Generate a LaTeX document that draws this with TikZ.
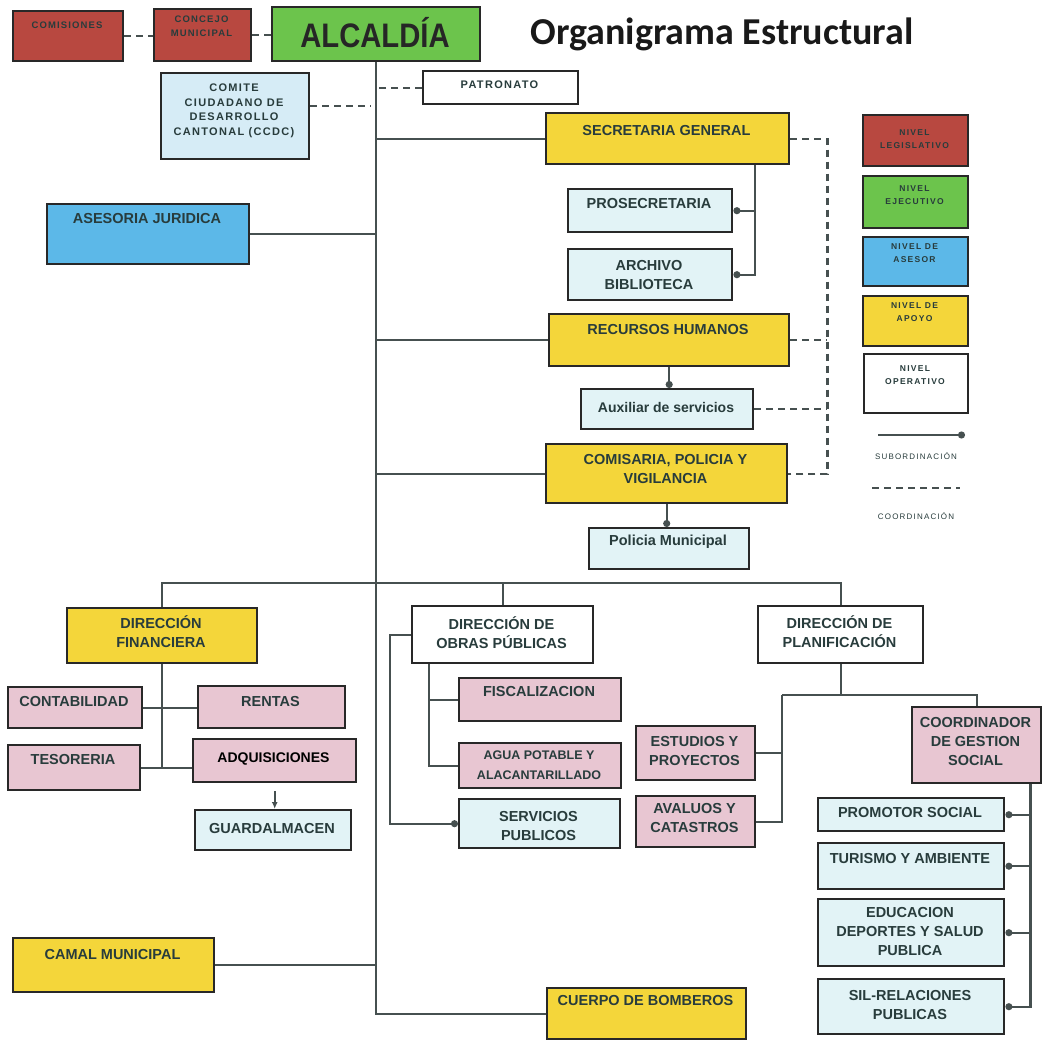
\documentclass[tikz,border=0pt]{standalone}
\usepackage{fontspec}
\setmainfont{Liberation Sans}
\newfontfamily\spacedfont[LetterSpace=12]{Liberation Sans}
\newfontfamily\legfont[LetterSpace=15]{Liberation Sans}
\newfontfamily\alcfont[FakeStretch=0.86]{Liberation Sans}
\newfontfamily\titlefont{Carlito}
\usetikzlibrary{arrows.meta,calc}
\definecolor{cred}{RGB}{184,72,64}
\definecolor{cgreen}{RGB}{108,196,76}
\definecolor{cblue}{RGB}{92,184,232}
\definecolor{cyel}{RGB}{244,214,58}
\definecolor{cpink}{RGB}{232,198,210}
\definecolor{ccyan}{RGB}{226,243,246}
\definecolor{ccom}{RGB}{214,236,246}
\definecolor{bordc}{RGB}{40,40,40}
\definecolor{linec}{RGB}{70,80,80}
\definecolor{textc}{RGB}{40,60,60}
\newcommand\obox[9]{%
  \node[#2, anchor=north west, minimum width={(#5-#3)*1pt}, minimum height={(#6-#4)*1pt}] (#1) at (#3,#4) {};
  \node[txt, #7] (#1-t) at ({(#3+#5)/2},#8) {#9};
}
\begin{document}
\begin{tikzpicture}[x=1pt,y=-1pt,
  bx/.style={draw=bordc, line width=2.4pt, inner sep=0pt},
  redbox/.style={bx, fill=cred},
  greenbox/.style={bx, fill=cgreen},
  bluebox/.style={bx, fill=cblue},
  yelbox/.style={bx, fill=cyel},
  pinkbox/.style={bx, fill=cpink},
  cyanbox/.style={bx, fill=ccyan},
  whitebox/.style={bx, fill=white},
  combox/.style={bx, fill=ccom},
  txt/.style={align=center, inner sep=0pt, text=textc, font=\bfseries\fontsize{14.5}{19}\selectfont},
  legt/.style={font=\legfont\bfseries\fontsize{8.5}{12.5}\selectfont},
  conn/.style={draw=linec, line width=2.2pt},
  dashconn/.style={conn, dash pattern=on 7pt off 5pt},
  subconn/.style={conn, -{Circle[length=7pt]}},
]
\fill[white] (0,0) rectangle (1042,1040);
\useasboundingbox (0,0) rectangle (1042,1040);

\node[font=\titlefont\bfseries\fontsize{38}{40}\selectfont, anchor=base, text=black!90] (title) at (722,45) {Organigrama Estructural};

% top
\obox{comis}{redbox}{12}{10}{122}{60}{font=\spacedfont\bfseries\fontsize{9.5}{11}\selectfont}{25}{COMISIONES}
\obox{conc}{redbox}{153}{8}{250}{60}{font=\spacedfont\bfseries\fontsize{9.5}{14}\selectfont}{26}{CONCEJO\\MUNICIPAL}
\obox{alc}{greenbox}{271}{6}{479}{60}{font=\alcfont\bfseries\fontsize{34}{34}\selectfont, text=black!85}{33}{ALCALDÍA}
\obox{comite}{combox}{160}{72}{308}{158}{font=\spacedfont\bfseries\fontsize{11}{14.5}\selectfont}{111}{COMITE\\CIUDADANO DE\\DESARROLLO\\CANTONAL (CCDC)}
\obox{pat}{whitebox}{422}{70}{577}{103}{font=\spacedfont\bfseries\fontsize{11}{12}\selectfont}{85}{PATRONATO}
\obox{sg}{yelbox}{545}{112}{788}{163}{}{131}{SECRETARIA GENERAL}
\obox{pros}{cyanbox}{567}{188}{731}{231}{}{204}{PROSECRETARIA}
\obox{arch}{cyanbox}{567}{248}{731}{299}{}{275}{ARCHIVO\\BIBLIOTECA}
\obox{ases}{bluebox}{46}{203}{248}{263}{}{219}{ASESORIA JURIDICA}
\obox{rh}{yelbox}{548}{313}{788}{365}{}{330}{RECURSOS HUMANOS}
\obox{aux}{cyanbox}{580}{388}{752}{428}{font=\bfseries\fontsize{14}{16}\selectfont}{407}{Auxiliar de servicios}
\obox{com}{yelbox}{545}{443}{786}{502}{}{469}{COMISARIA, POLICIA Y\\VIGILANCIA}
\obox{pol}{cyanbox}{588}{527}{748}{568}{}{542}{Policia Municipal}

% legend
\obox{lleg}{redbox}{862}{114}{967}{165}{legt}{139}{NIVEL\\LEGISLATIVO}
\obox{leje}{greenbox}{862}{175}{967}{227}{legt}{195}{NIVEL\\EJECUTIVO}
\obox{lase}{bluebox}{862}{236}{967}{285}{legt}{253}{NIVEL DE\\ASESOR}
\obox{lapo}{yelbox}{862}{295}{967}{345}{legt}{312}{NIVEL DE\\APOYO}
\obox{lope}{whitebox}{863}{353}{967}{412}{legt}{375}{NIVEL\\OPERATIVO}
\coordinate (ls1) at (878,435);
\coordinate (ls2) at (965,435);
\draw[subconn] (ls1) -- (ls2);
\node[txt, font=\legfont\fontsize{8}{9}\selectfont] (lsub) at (916,456) {SUBORDINACIÓN};
\coordinate (lc1) at (872,488);
\coordinate (lc2) at (960,488);
\draw[dashconn] (lc1) -- (lc2);
\node[txt, font=\legfont\fontsize{8}{9}\selectfont] (lcoo) at (916,516) {COORDINACIÓN};

% lower
\obox{df}{yelbox}{66}{607}{256}{662}{}{632}{DIRECCIÓN\\FINANCIERA}
\obox{dop}{whitebox}{411}{605}{592}{662}{}{633}{DIRECCIÓN DE\\OBRAS PÚBLICAS}
\obox{dp}{whitebox}{757}{605}{922}{662}{}{632}{DIRECCIÓN DE\\PLANIFICACIÓN}
\obox{conta}{pinkbox}{7}{686}{141}{727}{}{702}{CONTABILIDAD}
\obox{rent}{pinkbox}{197}{685}{344}{727}{}{702}{RENTAS}
\obox{tes}{pinkbox}{7}{744}{139}{789}{}{760}{TESORERIA}
\obox{adq}{pinkbox}{192}{738}{355}{781}{text=black, font=\bfseries\fontsize{14}{16}\selectfont}{759}{ADQUISICIONES}
\obox{guard}{cyanbox}{194}{809}{350}{849}{}{829}{GUARDALMACEN}
\obox{fisc}{pinkbox}{458}{677}{620}{720}{}{692}{FISCALIZACION}
\obox{agua}{pinkbox}{458}{742}{620}{787}{font=\bfseries\fontsize{12.5}{20}\selectfont}{765}{AGUA POTABLE Y\\ALACANTARILLADO}
\obox{serv}{cyanbox}{458}{798}{619}{847}{}{826}{SERVICIOS\\PUBLICOS}
\obox{est}{pinkbox}{635}{725}{754}{779}{}{751}{ESTUDIOS Y\\PROYECTOS}
\obox{aval}{pinkbox}{635}{795}{754}{846}{}{818}{AVALUOS Y\\CATASTROS}
\obox{cgs}{pinkbox}{911}{706}{1040}{782}{}{742}{COORDINADOR\\DE GESTION\\SOCIAL}
\obox{prom}{cyanbox}{817}{797}{1003}{830}{}{813}{PROMOTOR SOCIAL}
\obox{tur}{cyanbox}{817}{842}{1003}{888}{}{859}{TURISMO Y AMBIENTE}
\obox{edu}{cyanbox}{817}{898}{1003}{965}{}{932}{EDUCACION\\DEPORTES Y SALUD\\PUBLICA}
\obox{sil}{cyanbox}{817}{978}{1003}{1033}{}{1005}{SIL-RELACIONES\\PUBLICAS}
\obox{camal}{yelbox}{12}{937}{213}{991}{}{955}{CAMAL MUNICIPAL}
\obox{bomb}{yelbox}{546}{987}{745}{1038}{}{1001}{CUERPO DE BOMBEROS}

% trunk
\coordinate (trk) at (alc.south |- bomb.west);
\draw[conn] (alc.south) -- (trk) -- (bomb.west);
\draw[conn] (sg.west) -- (sg.west -| alc.south);
\draw[conn] (rh.west) -- (rh.west -| alc.south);
\draw[conn] (com.west) -- (com.west -| alc.south);
\draw[conn] (ases.east) -- (ases.east -| alc.south);
\draw[conn] (camal.east) -- (camal.east -| alc.south);
\draw[dashconn] (pat.west) -- (pat.west -| alc.south);
\draw[dashconn, shorten >=5pt] ($(comite.east)+(0,-10)$) -- ($(comite.east -| alc.south)+(0,-10)$);
\draw[dashconn] (comis.east) -- (comis.east -| conc.west);
\draw[dashconn] (conc.east) -- (conc.east -| alc.west);

% secretaria
\coordinate (sgx) at ($(sg.south west)+(210,0)$);
\draw[subconn] (sgx) |- (arch.east);
\draw[subconn] (sgx |- pros.east) -- (pros.east);
\draw[subconn] (rh.south) -- (rh.south |- aux.north);
\draw[subconn] (com.south) -- (com.south |- pol.north);
\coordinate (cdx) at ($(sg.east)+(37,0)$);
\draw[dashconn] (sg.east) -- (cdx) -- (cdx |- com.east) -- (com.east);
\draw[dashconn] (rh.east) -- (rh.east -| cdx);
\draw[dashconn] (aux.east) -- (aux.east -| cdx);

% bus
\coordinate (busy) at (0,583);
\draw[conn] (df.north) -- (df.north |- busy) -- (dp.north |- busy) -- (dp.north);
\draw[conn] (dop.north) -- (dop.north |- busy);

% financiera
\draw[conn] (df.south) -- (df.south |- tes.east);
\draw[conn] (tes.east) -- (tes.east -| adq.west);
\draw[conn] (conta.east) -- (conta.east -| rent.west);
\draw[conn, -{Latex[length=7pt,width=6pt]}, shorten <=8pt] (adq.south) -- (adq.south |- guard.north);

% obras publicas
\coordinate (dopx) at ($(dop.south west)+(18,0)$);
\draw[conn] (dopx) |- (agua.west);
\draw[conn] (dopx |- fisc.west) -- (fisc.west);
\draw[subconn] (dop.west) -- ++(-21,0) |- (serv.west);

% planificacion
\coordinate (dpy) at (0,695);
\coordinate (dpl) at (782,695);
\draw[conn] (dp.south) -- (dp.south |- dpy);
\draw[conn] (dpl) -- (dpl -| cgs.north) -- (cgs.north);
\draw[conn] (dpl) |- (aval.east);
\draw[conn] (est.east) -- (est.east -| dpl);

% gestion social
\coordinate (cgx) at ($(cgs.south east)+(-12,0)$);
\draw[subconn] (cgx) |- (sil.east);
\draw[subconn] (cgx |- prom.east) -- (prom.east);
\draw[subconn] (cgx |- tur.east) -- (tur.east);
\draw[subconn] (cgx |- edu.east) -- (edu.east);
\end{tikzpicture}
\end{document}
